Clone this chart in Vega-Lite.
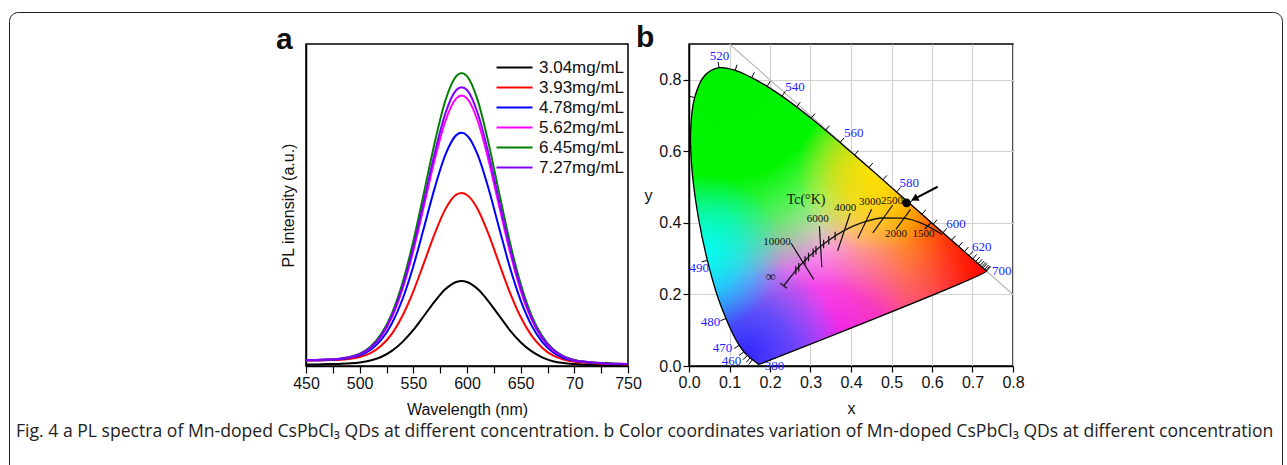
{
  "$schema": "https://vega.github.io/schema/vega-lite/v6.json",
  "background": "white",
  "padding": {"left": 8, "top": 11, "right": 0, "bottom": 0},
  "config": {
    "view": {"stroke": "black", "strokeWidth": 1.5},
    "axis": {"labelFont": "Liberation Sans", "titleFont": "Liberation Sans", "labelFontSize": 16, "titleFontSize": 16, "titleFontWeight": "normal", "labelColor": "#111", "titleColor": "#111", "domainColor": "black", "tickColor": "black", "domainWidth": 1.5, "tickWidth": 1.2, "labelOverlap": false, "labelFlush": false},
    "text": {"font": "Liberation Serif"}
  },
  "datasets": {
    "locus": [
      {"o":380,"x":0.1741,"y":0.0050},{"o":420,"x":0.1714,"y":0.0051},{"o":430,"x":0.1689,"y":0.0069},{"o":440,"x":0.1644,"y":0.0109},{"o":445,"x":0.1611,"y":0.0138},{"o":450,"x":0.1566,"y":0.0177},{"o":455,"x":0.1510,"y":0.0227},{"o":460,"x":0.1440,"y":0.0297},{"o":465,"x":0.1355,"y":0.0399},{"o":470,"x":0.1241,"y":0.0578},{"o":475,"x":0.1096,"y":0.0868},{"o":480,"x":0.0913,"y":0.1327},{"o":485,"x":0.0687,"y":0.2007},{"o":490,"x":0.0454,"y":0.2950},{"o":495,"x":0.0235,"y":0.4127},{"o":500,"x":0.0082,"y":0.5384},{"o":505,"x":0.0039,"y":0.6548},{"o":510,"x":0.0139,"y":0.7502},{"o":515,"x":0.0389,"y":0.8120},{"o":520,"x":0.0743,"y":0.8338},{"o":525,"x":0.1142,"y":0.8262},{"o":530,"x":0.1547,"y":0.8059},{"o":535,"x":0.1929,"y":0.7816},{"o":540,"x":0.2296,"y":0.7543},{"o":545,"x":0.2658,"y":0.7243},{"o":550,"x":0.3016,"y":0.6923},{"o":555,"x":0.3373,"y":0.6589},{"o":560,"x":0.3731,"y":0.6245},{"o":565,"x":0.4087,"y":0.5896},{"o":570,"x":0.4441,"y":0.5547},{"o":575,"x":0.4788,"y":0.5202},{"o":580,"x":0.5125,"y":0.4866},{"o":585,"x":0.5448,"y":0.4544},{"o":590,"x":0.5752,"y":0.4242},{"o":595,"x":0.6029,"y":0.3965},{"o":600,"x":0.6270,"y":0.3725},{"o":605,"x":0.6482,"y":0.3514},{"o":610,"x":0.6658,"y":0.3340},{"o":615,"x":0.6801,"y":0.3197},{"o":620,"x":0.6915,"y":0.3083},{"o":625,"x":0.7006,"y":0.2993},{"o":630,"x":0.7079,"y":0.2920},{"o":635,"x":0.7140,"y":0.2859},{"o":640,"x":0.7190,"y":0.2809},{"o":650,"x":0.7260,"y":0.2740},{"o":660,"x":0.7300,"y":0.2700},{"o":680,"x":0.7334,"y":0.2666},{"o":700,"x":0.7347,"y":0.2653},{"o":780,"x":0.1741,"y":0.0050}
    ]
  },
  "bounds": "flush",
  "spacing": 61,
  "hconcat": [
    {
      "width": 236, "height": 322, "view": {"stroke": null},
      "data": {"values": [{"a": 0}, {"a": 1}]},
      "mark": {"type": "text", "text": ""},
      "encoding": {
        "color": {"field": "a", "type": "quantitative", "scale": {"range": ["rgba(0,0,0,0)", "rgba(0,0,0,0)"]},
          "legend": {
            "title": ["Fig. 4 a PL spectra of Mn-doped CsPbCl₃ QDs at different concentration. b Color coordinates variation of Mn-doped CsPbCl₃ QDs at different concentration", " "],
            "titleOrient": "bottom", "titleAnchor": "start", "titleAlign": "left", "titleFont": "Open Sans", "titleFontSize": 17.6, "titleFontWeight": "normal", "titleColor": "#222", "titleLimit": 1300, "titlePadding": 4, "titleLineHeight": 28,
            "labelExpr": "''", "labelOpacity": 0, "labelOffset": 0, "labelFontSize": 1, "direction": "horizontal", "orient": "none", "legendX": 0, "legendY": -32,
            "gradientLength": 1259, "gradientThickness": 399, "gradientStrokeWidth": 0, "gradientStrokeColor": "transparent",
            "padding": 7, "strokeColor": "#222", "cornerRadius": 9
          }}
      }
    },
    {
      "width": 322, "height": 322,
      "title": {"text": "a", "anchor": "start", "frame": "group", "dx": -30, "dy": 35, "offset": 0, "baseline": "alphabetic", "fontSize": 30, "fontWeight": "bold", "font": "Liberation Sans", "color": "#111"},
      "data": {"values": [
        {"w":450,"c1":0.005,"c2":0.017,"c3":0.018,"c4":0.019,"c5":0.019,"c6":0.019},
        {"w":460,"c1":0.005,"c2":0.017,"c3":0.018,"c4":0.019,"c5":0.019,"c6":0.019},
        {"w":470,"c1":0.006,"c2":0.018,"c3":0.019,"c4":0.020,"c5":0.020,"c6":0.020},
        {"w":480,"c1":0.006,"c2":0.019,"c3":0.021,"c4":0.022,"c5":0.022,"c6":0.022},
        {"w":490,"c1":0.008,"c2":0.022,"c3":0.025,"c4":0.026,"c5":0.027,"c6":0.027},
        {"w":500,"c1":0.011,"c2":0.028,"c3":0.033,"c4":0.036,"c5":0.038,"c6":0.037},
        {"w":510,"c1":0.017,"c2":0.040,"c3":0.050,"c4":0.056,"c5":0.060,"c6":0.057},
        {"w":520,"c1":0.028,"c2":0.063,"c3":0.081,"c4":0.092,"c5":0.099,"c6":0.094},
        {"w":530,"c1":0.047,"c2":0.100,"c3":0.132,"c4":0.151,"c5":0.163,"c6":0.156},
        {"w":540,"c1":0.075,"c2":0.157,"c3":0.208,"c4":0.240,"c5":0.259,"c6":0.247},
        {"w":550,"c1":0.112,"c2":0.232,"c3":0.310,"c4":0.358,"c5":0.388,"c6":0.369},
        {"w":560,"c1":0.156,"c2":0.321,"c3":0.431,"c4":0.499,"c5":0.540,"c6":0.514},
        {"w":570,"c1":0.201,"c2":0.412,"c3":0.554,"c4":0.642,"c5":0.695,"c6":0.662},
        {"w":580,"c1":0.239,"c2":0.488,"c3":0.657,"c4":0.762,"c5":0.826,"c6":0.786},
        {"w":590,"c1":0.261,"c2":0.532,"c3":0.717,"c4":0.831,"c5":0.900,"c6":0.857},
        {"w":595,"c1":0.264,"c2":0.537,"c3":0.724,"c4":0.840,"c5":0.910,"c6":0.866},
        {"w":600,"c1":0.261,"c2":0.531,"c3":0.716,"c4":0.831,"c5":0.900,"c6":0.857},
        {"w":610,"c1":0.239,"c2":0.487,"c3":0.656,"c4":0.761,"c5":0.825,"c6":0.785},
        {"w":620,"c1":0.201,"c2":0.410,"c3":0.552,"c4":0.640,"c5":0.693,"c6":0.660},
        {"w":630,"c1":0.156,"c2":0.318,"c3":0.428,"c4":0.496,"c5":0.537,"c6":0.511},
        {"w":640,"c1":0.111,"c2":0.228,"c3":0.306,"c4":0.355,"c5":0.384,"c6":0.366},
        {"w":650,"c1":0.074,"c2":0.152,"c3":0.204,"c4":0.235,"c5":0.255,"c6":0.243},
        {"w":660,"c1":0.046,"c2":0.095,"c3":0.127,"c4":0.146,"c5":0.158,"c6":0.150},
        {"w":670,"c1":0.027,"c2":0.057,"c3":0.075,"c4":0.086,"c5":0.093,"c6":0.088},
        {"w":680,"c1":0.015,"c2":0.033,"c3":0.043,"c4":0.049,"c5":0.053,"c6":0.051},
        {"w":690,"c1":0.009,"c2":0.020,"c3":0.025,"c4":0.029,"c5":0.031,"c6":0.029},
        {"w":700,"c1":0.006,"c2":0.013,"c3":0.016,"c4":0.018,"c5":0.019,"c6":0.018},
        {"w":710,"c1":0.004,"c2":0.010,"c3":0.012,"c4":0.013,"c5":0.013,"c6":0.013},
        {"w":720,"c1":0.003,"c2":0.008,"c3":0.009,"c4":0.010,"c5":0.010,"c6":0.010},
        {"w":730,"c1":0.003,"c2":0.007,"c3":0.008,"c4":0.008,"c5":0.009,"c6":0.008},
        {"w":740,"c1":0.002,"c2":0.006,"c3":0.006,"c4":0.007,"c5":0.007,"c6":0.007},
        {"w":750,"c1":0.002,"c2":0.005,"c3":0.006,"c4":0.006,"c5":0.006,"c6":0.006}
      ]},
      "transform": [{"fold": ["c1", "c2", "c3", "c4", "c5", "c6"], "as": ["series", "v"]}],
      "mark": {"type": "line", "interpolate": "monotone", "strokeWidth": 2},
      "encoding": {
        "x": {"field": "w", "type": "quantitative", "scale": {"domain": [450, 750], "nice": false},
          "axis": {"title": "Wavelength (nm)", "values": [450,475,500,525,550,575,600,625,650,675,700,725,750], "labelExpr": "datum.value % 50 == 0 ? (datum.value == 700 ? '70' : datum.label) : ''", "grid": false, "tickSize": 7, "labelPadding": 2, "titlePadding": 10,
            "encode": {"ticks": {"update": {"y2": {"signal": "datum.value % 50 == 0 ? 7 : 4"}}}}}},
        "y": {"field": "v", "type": "quantitative", "scale": {"domain": [0, 1], "nice": false},
          "axis": {"title": "PL intensity (a.u.)", "labels": false, "ticks": false, "grid": false, "titlePadding": 10}},
        "color": {"field": "series", "type": "nominal",
          "scale": {"domain": ["c1", "c2", "c3", "c4", "c5", "c6"], "range": ["#000000", "#ff0000", "#0000ff", "#ff00ff", "#008000", "#8000ff"]},
          "legend": {"title": null, "orient": "none", "legendX": 182, "legendY": 15, "padding": 0, "symbolType": "M0,0H6", "symbolSize": 144, "symbolStrokeWidth": 2, "labelFont": "Liberation Sans", "labelFontSize": 17, "labelOffset": 34, "rowPadding": 2, "labelColor": "#111",
            "labelExpr": "datum.label == 'c1' ? '3.04mg/mL' : datum.label == 'c2' ? '3.93mg/mL' : datum.label == 'c3' ? '4.78mg/mL' : datum.label == 'c4' ? '5.62mg/mL' : datum.label == 'c5' ? '6.45mg/mL' : '7.27mg/mL'"}}
      }
    },
    {
      "width": 324, "height": 322,
      "title": {"text": "b", "anchor": "start", "frame": "group", "dx": -53, "dy": 35, "offset": 0, "baseline": "alphabetic", "fontSize": 30, "fontWeight": "bold", "font": "Liberation Sans", "color": "#111"},
      "layer": [
        {
          "data": {"values": [{"x": 0.1, "y": 0.9}, {"x": 0.8, "y": 0.2}]},
          "mark": {"type": "line", "color": "#b8b8b8", "strokeWidth": 1.2},
          "encoding": {
            "x": {"field": "x", "type": "quantitative", "scale": {"domain": [0, 0.8], "nice": false},
              "axis": {"title": "x", "values": [0,0.05,0.1,0.15,0.2,0.25,0.3,0.35,0.4,0.45,0.5,0.55,0.6,0.65,0.7,0.75,0.8], "labelExpr": "round(datum.value*100) % 10 == 0 ? format(datum.value, '.1f') : ''", "grid": true, "gridColor": "#d2d2d2", "gridWidth": 1.2, "tickSize": 6, "labelPadding": 2, "titlePadding": 10,
                "encode": {"ticks": {"update": {"y2": {"signal": "round(datum.value*100) % 10 == 0 ? 6 : 3"}}}}}},
            "y": {"field": "y", "type": "quantitative", "scale": {"domain": [0, 0.9], "nice": false},
              "axis": {"title": "y", "titleAngle": 0, "titleX": -41, "titleY": 151, "titleAlign": "center", "titleBaseline": "middle", "values": [0,0.05,0.1,0.15,0.2,0.25,0.3,0.35,0.4,0.45,0.5,0.55,0.6,0.65,0.7,0.75,0.8,0.85,0.9], "labelExpr": "round(datum.value*100) % 10 == 0 ? format(datum.value, '.1f') : ''", "grid": true, "gridColor": "#d2d2d2", "gridWidth": 1.2, "tickSize": 6, "labelPadding": 2,
                "encode": {"ticks": {"update": {"x2": {"signal": "round(datum.value*100) % 10 == 0 ? -6 : -3"}}}}}}
          }
        },
        {
          "data": {"name": "locus"},
          "mark": {"type": "line", "interpolate": "catmull-rom", "stroke": "transparent",
            "fill": {"gradient": "linear", "x1": 0, "y1": 0, "x2": 1, "y2": 0, "stops": [
              {"offset": 0, "color": "#00f8e8"}, {"offset": 0.12, "color": "#00ecff"}, {"offset": 0.27, "color": "#90e4ff"}, {"offset": 0.44, "color": "#f8f4f6"}, {"offset": 0.58, "color": "#ffd860"}, {"offset": 0.72, "color": "#ff9a00"}, {"offset": 0.86, "color": "#ff3a10"}, {"offset": 1, "color": "#ff0000"}]}},
          "encoding": {"x": {"field": "x", "type": "quantitative"}, "y": {"field": "y", "type": "quantitative"}, "order": {"field": "o", "type": "quantitative"}}
        },
        {
          "data": {"name": "locus"},
          "mark": {"type": "line", "interpolate": "catmull-rom", "stroke": "transparent",
            "fill": {"gradient": "radial", "x1": 0.43, "y1": 1.05, "r1": 0, "x2": 0.43, "y2": 1.05, "r2": 0.62, "stops": [
              {"offset": 0, "color": "rgba(230,0,255,1)"}, {"offset": 0.5, "color": "rgba(245,10,230,0.75)"}, {"offset": 1, "color": "rgba(255,80,200,0)"}]}},
          "encoding": {"x": {"field": "x", "type": "quantitative"}, "y": {"field": "y", "type": "quantitative"}, "order": {"field": "o", "type": "quantitative"}}
        },
        {
          "data": {"name": "locus"},
          "mark": {"type": "line", "interpolate": "catmull-rom", "stroke": "transparent",
            "fill": {"gradient": "radial", "x1": 0.18, "y1": 0.98, "r1": 0, "x2": 0.18, "y2": 0.98, "r2": 0.34, "stops": [
              {"offset": 0, "color": "rgba(40,30,255,0.95)"}, {"offset": 0.5, "color": "rgba(20,90,255,0.6)"}, {"offset": 1, "color": "rgba(0,170,255,0)"}]}},
          "encoding": {"x": {"field": "x", "type": "quantitative"}, "y": {"field": "y", "type": "quantitative"}, "order": {"field": "o", "type": "quantitative"}}
        },
        {
          "data": {"name": "locus"},
          "mark": {"type": "line", "interpolate": "catmull-rom", "stroke": "transparent",
            "fill": {"gradient": "radial", "x1": 0.1, "y1": 0, "r1": 0, "x2": 0.1, "y2": 0, "r2": 0.72, "stops": [
              {"offset": 0, "color": "rgba(0,240,0,1)"}, {"offset": 0.52, "color": "rgba(0,245,0,1)"}, {"offset": 0.74, "color": "rgba(40,250,0,0.6)"}, {"offset": 1, "color": "rgba(100,255,0,0)"}]}},
          "encoding": {"x": {"field": "x", "type": "quantitative"}, "y": {"field": "y", "type": "quantitative"}, "order": {"field": "o", "type": "quantitative"}}
        },
        {
          "data": {"name": "locus"},
          "mark": {"type": "line", "interpolate": "catmull-rom", "stroke": "transparent",
            "fill": {"gradient": "radial", "x1": 0.05, "y1": 0.62, "r1": 0, "x2": 0.05, "y2": 0.62, "r2": 0.26, "stops": [
              {"offset": 0, "color": "rgba(0,255,255,0.85)"}, {"offset": 0.5, "color": "rgba(0,250,255,0.5)"}, {"offset": 1, "color": "rgba(0,240,255,0)"}]}},
          "encoding": {"x": {"field": "x", "type": "quantitative"}, "y": {"field": "y", "type": "quantitative"}, "order": {"field": "o", "type": "quantitative"}}
        },
        {
          "data": {"name": "locus"},
          "mark": {"type": "line", "interpolate": "catmull-rom", "stroke": "transparent",
            "fill": {"gradient": "radial", "x1": 0.62, "y1": 0.36, "r1": 0, "x2": 0.62, "y2": 0.36, "r2": 0.26, "stops": [
              {"offset": 0, "color": "rgba(255,225,0,0.95)"}, {"offset": 0.45, "color": "rgba(255,215,0,0.65)"}, {"offset": 1, "color": "rgba(255,210,0,0)"}]}},
          "encoding": {"x": {"field": "x", "type": "quantitative"}, "y": {"field": "y", "type": "quantitative"}, "order": {"field": "o", "type": "quantitative"}}
        },
        {
          "data": {"name": "locus"},
          "mark": {"type": "line", "interpolate": "catmull-rom", "color": "black", "strokeWidth": 1.3},
          "encoding": {"x": {"field": "x", "type": "quantitative"}, "y": {"field": "y", "type": "quantitative"}, "order": {"field": "o", "type": "quantitative"}}
        },
        {
          "data": {"values": [
            {"x":0.1566,"y":0.0177,"x2":0.1475,"y2":0.0045},{"x":0.1510,"y":0.0227,"x2":0.1415,"y2":0.0099},{"x":0.1440,"y":0.0297,"x2":0.1336,"y2":0.0177},{"x":0.1355,"y":0.0399,"x2":0.1239,"y2":0.0294},{"x":0.1241,"y":0.0578,"x2":0.1115,"y2":0.0489},{"x":0.0913,"y":0.1327,"x2":0.0776,"y2":0.1264},{"x":0.0454,"y":0.2950,"x2":0.0310,"y2":0.2911},{"x":0.0139,"y":0.7502,"x2":0.0005,"y2":0.7543},{"x":0.0743,"y":0.8338,"x2":0.0719,"y2":0.8503},{"x":0.1142,"y":0.8262,"x2":0.1185,"y2":0.8422},{"x":0.1547,"y":0.8059,"x2":0.1613,"y2":0.8209},{"x":0.1929,"y":0.7816,"x2":0.2006,"y2":0.7959},{"x":0.2296,"y":0.7543,"x2":0.2380,"y2":0.7681},{"x":0.2658,"y":0.7243,"x2":0.2748,"y2":0.7377},{"x":0.3016,"y":0.6923,"x2":0.3109,"y2":0.7054},{"x":0.3373,"y":0.6589,"x2":0.3468,"y2":0.6718},{"x":0.3731,"y":0.6245,"x2":0.3827,"y2":0.6372},{"x":0.4087,"y":0.5896,"x2":0.4184,"y2":0.6023},{"x":0.4441,"y":0.5547,"x2":0.4538,"y2":0.5673},{"x":0.4788,"y":0.5202,"x2":0.4886,"y2":0.5328},{"x":0.5125,"y":0.4866,"x2":0.5223,"y2":0.4992},{"x":0.5448,"y":0.4544,"x2":0.5546,"y2":0.4670},{"x":0.5752,"y":0.4242,"x2":0.5850,"y2":0.4368},{"x":0.6029,"y":0.3965,"x2":0.6127,"y2":0.4091},{"x":0.6270,"y":0.3725,"x2":0.6368,"y2":0.3851},{"x":0.6482,"y":0.3514,"x2":0.6580,"y2":0.3640},{"x":0.6658,"y":0.3340,"x2":0.6756,"y2":0.3466},{"x":0.6801,"y":0.3197,"x2":0.6899,"y2":0.3323},{"x":0.6915,"y":0.3083,"x2":0.7013,"y2":0.3209},{"x":0.7006,"y":0.2993,"x2":0.7104,"y2":0.3119},{"x":0.7079,"y":0.2920,"x2":0.7177,"y2":0.3046},{"x":0.7140,"y":0.2859,"x2":0.7238,"y2":0.2985},{"x":0.7190,"y":0.2809,"x2":0.7288,"y2":0.2935},{"x":0.7230,"y":0.2770,"x2":0.7328,"y2":0.2896},{"x":0.7260,"y":0.2740,"x2":0.7358,"y2":0.2866},{"x":0.7300,"y":0.2700,"x2":0.7398,"y2":0.2826},{"x":0.7334,"y":0.2666,"x2":0.7432,"y2":0.2792},{"x":0.7347,"y":0.2653,"x2":0.7445,"y2":0.2779}
          ]},
          "mark": {"type": "rule", "color": "black", "strokeWidth": 1},
          "encoding": {"x": {"field": "x", "type": "quantitative"}, "y": {"field": "y", "type": "quantitative"}, "x2": {"field": "x2"}, "y2": {"field": "y2"}}
        },
        {
          "data": {"values": [
            {"x":0.075,"y":0.866,"t":"520"},{"x":0.262,"y":0.781,"t":"540"},{"x":0.407,"y":0.652,"t":"560"},{"x":0.544,"y":0.511,"t":"580"},{"x":0.659,"y":0.397,"t":"600"},{"x":0.723,"y":0.333,"t":"620"},{"x":0.772,"y":0.265,"t":"700"},{"x":0.025,"y":0.273,"t":"490"},{"x":0.053,"y":0.124,"t":"480"},{"x":0.083,"y":0.051,"t":"470"},{"x":0.105,"y":0.014,"t":"460"},{"x":0.211,"y":0.0,"t":"380"}
          ]},
          "mark": {"type": "text", "font": "Liberation Serif", "fontSize": 13, "color": "#2323ff", "baseline": "middle", "align": "center"},
          "encoding": {"x": {"field": "x", "type": "quantitative"}, "y": {"field": "y", "type": "quantitative"}, "text": {"field": "t"}}
        },
        {
          "data": {"values": [
            {"x":0.2337,"y":0.2241},{"x":0.2530,"y":0.2520},{"x":0.2637,"y":0.2674},{"x":0.2807,"y":0.2884},{"x":0.2951,"y":0.3048},{"x":0.3135,"y":0.3236},{"x":0.3221,"y":0.3318},{"x":0.3451,"y":0.3516},{"x":0.3805,"y":0.3768},{"x":0.4053,"y":0.3907},{"x":0.4369,"y":0.4041},{"x":0.4770,"y":0.4137},{"x":0.5267,"y":0.4133},{"x":0.5857,"y":0.3931},{"x":0.6247,"y":0.3674}
          ]},
          "mark": {"type": "line", "interpolate": "monotone", "color": "#111", "strokeWidth": 1.3},
          "encoding": {"x": {"field": "x", "type": "quantitative"}, "y": {"field": "y", "type": "quantitative"}}
        },
        {
          "data": {"values": [
            {"x":0.252,"y":0.343,"x2":0.308,"y2":0.242},{"x":0.322,"y":0.391,"x2":0.328,"y2":0.276},{"x":0.398,"y":0.427,"x2":0.367,"y2":0.322},{"x":0.451,"y":0.438,"x2":0.417,"y2":0.357},{"x":0.503,"y":0.450,"x2":0.454,"y2":0.372},{"x":0.547,"y":0.438,"x2":0.511,"y2":0.382},{"x":0.598,"y":0.401,"x2":0.582,"y2":0.383},{"x":0.2254,"y":0.2311,"x2":0.2420,"y2":0.2172},
            {"x":0.2637,"y":0.2554,"x2":0.2637,"y2":0.2794},{"x":0.2710,"y":0.2640,"x2":0.2710,"y2":0.2880},{"x":0.2866,"y":0.2830,"x2":0.2866,"y2":0.3070},{"x":0.2951,"y":0.2928,"x2":0.2951,"y2":0.3168},{"x":0.3064,"y":0.3046,"x2":0.3064,"y2":0.3286},{"x":0.3135,"y":0.3116,"x2":0.3135,"y2":0.3356},{"x":0.3324,"y":0.3290,"x2":0.3324,"y2":0.3530},{"x":0.3451,"y":0.3396,"x2":0.3451,"y2":0.3636},{"x":0.3608,"y":0.3515,"x2":0.3608,"y2":0.3755}
          ]},
          "mark": {"type": "rule", "color": "#111", "strokeWidth": 1.2},
          "encoding": {"x": {"field": "x", "type": "quantitative"}, "y": {"field": "y", "type": "quantitative"}, "x2": {"field": "x2"}, "y2": {"field": "y2"}}
        },
        {
          "data": {"values": [
            {"x":0.217,"y":0.347,"t":"10000"},{"x":0.318,"y":0.410,"t":"6000"},{"x":0.386,"y":0.443,"t":"4000"},{"x":0.447,"y":0.457,"t":"3000"},{"x":0.501,"y":0.462,"t":"2500"},{"x":0.511,"y":0.369,"t":"2000"},{"x":0.579,"y":0.369,"t":"1500"}
          ]},
          "mark": {"type": "text", "font": "Liberation Serif", "fontSize": 11, "color": "#111", "baseline": "middle", "align": "center"},
          "encoding": {"x": {"field": "x", "type": "quantitative"}, "y": {"field": "y", "type": "quantitative"}, "text": {"field": "t"}}
        },
        {
          "data": {"values": [{"x":0.289,"y":0.464,"t":"Tc(°K)"},{"x":0.202,"y":0.248,"t":"∞"}]},
          "mark": {"type": "text", "font": "Liberation Serif", "fontSize": 14, "color": "#111", "baseline": "middle", "align": "center"},
          "encoding": {"x": {"field": "x", "type": "quantitative"}, "y": {"field": "y", "type": "quantitative"}, "text": {"field": "t"}}
        },
        {
          "data": {"values": [{"x":0.614,"y":0.501},{"x":0.5566,"y":0.4674}]},
          "mark": {"type": "line", "color": "black", "strokeWidth": 2},
          "encoding": {"x": {"field": "x", "type": "quantitative"}, "y": {"field": "y", "type": "quantitative"}}
        },
        {
          "data": {"values": [{"x":0.5566,"y":0.4674}]},
          "mark": {"type": "point", "shape": "triangle-up", "angle": 243, "size": 70, "filled": true, "color": "black", "opacity": 1},
          "encoding": {"x": {"field": "x", "type": "quantitative"}, "y": {"field": "y", "type": "quantitative"}}
        },
        {
          "data": {"values": [{"x":0.537,"y":0.456}]},
          "mark": {"type": "circle", "size": 75, "color": "black", "opacity": 1},
          "encoding": {"x": {"field": "x", "type": "quantitative"}, "y": {"field": "y", "type": "quantitative"}}
        }
      ]
    }
  ]
}
